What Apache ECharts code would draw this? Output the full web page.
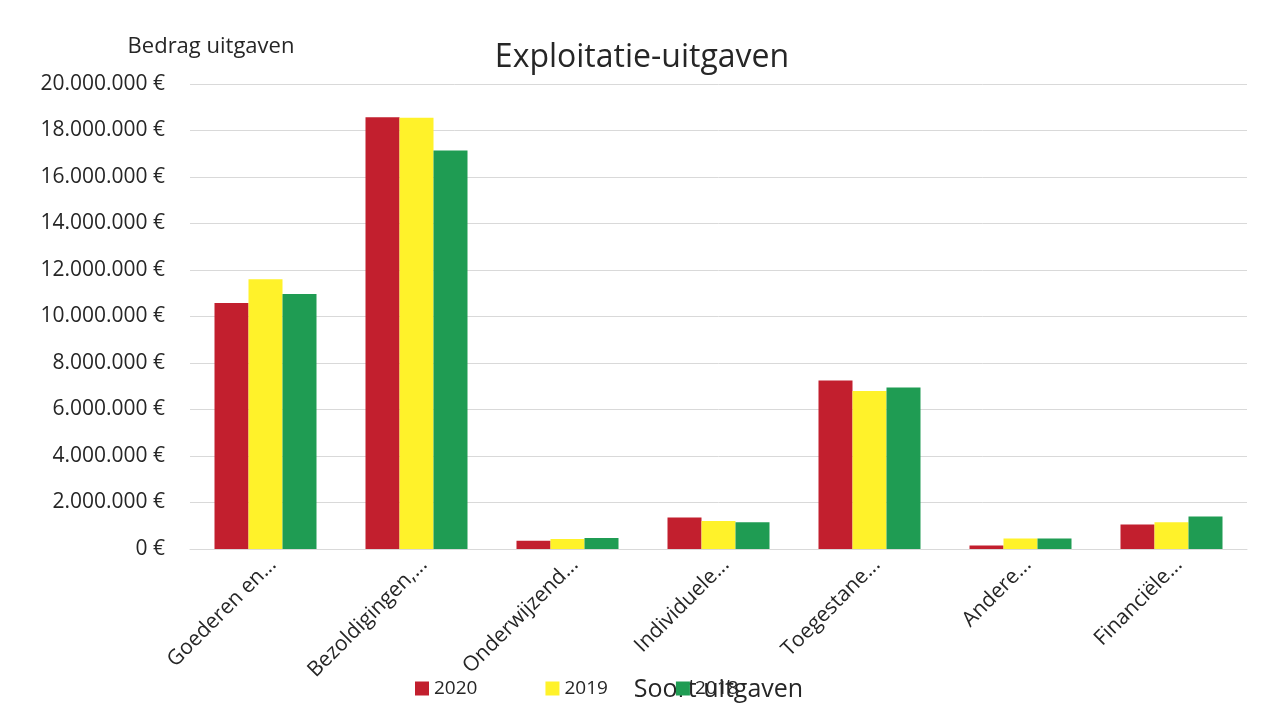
<!DOCTYPE html>
<html><head><meta charset="utf-8">
<script src="https://cdn.jsdelivr.net/npm/echarts@6/dist/echarts.min.js"></script>
<style>html,body{margin:0;padding:0;background:#fff}#c{width:1269px;height:709px}</style>
</head><body><div id="c"></div>
<script>
const categories = ["Goederen en...", "Bezoldigingen,...", "Onderwijzend...", "Individuele...", "Toegestane...", "Andere...", "Financiële..."];
const years = ["2020", "2019", "2018"];
const values2020 = [10580000, 18570000, 350000, 1350000, 7250000, 150000, 1050000];
const values2019 = [11600000, 18550000, 430000, 1200000, 6800000, 450000, 1150000];
const values2018 = [10970000, 17140000, 470000, 1150000, 6950000, 450000, 1400000];
const yTicks = [0, 2000000, 4000000, 6000000, 8000000, 10000000, 12000000, 14000000, 16000000, 18000000, 20000000];
const colors = ["#C21F2E", "#FFF22A", "#1F9C53"];
const FONT = "Open Sans";

function fmt(v){
  return String(v).replace(/\B(?=(\d{3})+(?!\d))/g, ".") + " €";
}

const chart = echarts.init(document.getElementById('c'));
chart.setOption({
  backgroundColor: '#fff',
  animation: false,
  textStyle: {fontFamily: FONT, color: '#262626'},
  title: {
    text: 'Exploitatie-uitgaven',
    left: 637, top: 37, textAlign: 'center',
    textStyle: {fontFamily: FONT, fontSize: 32, fontWeight: 'normal', color: '#262626'}
  },
  legend: {
    data: years,
    left: 410, top: 674,
    itemWidth: 14, itemHeight: 14, itemGap: 68,
    icon: 'rect',
    textStyle: {fontFamily: FONT, fontSize: 19, color: '#262626'}
  },
  grid: {left: 190, right: 22, top: 84, bottom: 160, containLabel: false, outerBoundsMode: 'none'},
  xAxis: {
    type: 'category',
    data: categories,
    name: 'Soort uitgaven',
    nameLocation: 'middle',
    nameGap: 128,
    nameMoveOverlap: false,
    nameTextStyle: {fontFamily: FONT, fontSize: 25, color: '#262626'},
    axisLine: {show: true, lineStyle: {color: '#D9D9D9'}},
    axisTick: {show: false},
    axisLabel: {rotate: 45, fontFamily: FONT, fontSize: 21, color: '#262626', margin: 5, interval: 0, verticalAlign: 'top'}
  },
  yAxis: {
    type: 'value',
    min: yTicks[0], max: yTicks[yTicks.length - 1], interval: 2000000,
    name: 'Bedrag uitgaven',
    nameLocation: 'end',
    nameGap: 26,
    nameTextStyle: {fontFamily: FONT, fontSize: 22, color: '#262626', align: 'center', padding: [0, 0, 0, 42]},
    axisLine: {show: false},
    axisTick: {show: false},
    splitLine: {lineStyle: {color: '#D9D9D9', width: 1}},
    axisLabel: {fontFamily: FONT, fontSize: 21, color: '#262626', margin: 25, formatter: fmt}
  },
  series: [
    {name: years[0], type: 'bar', data: values2020, itemStyle: {color: colors[0]}, barWidth: 34, barGap: '0%'},
    {name: years[1], type: 'bar', data: values2019, itemStyle: {color: colors[1]}, barWidth: 34, barGap: '0%'},
    {name: years[2], type: 'bar', data: values2018, itemStyle: {color: colors[2]}, barWidth: 34, barGap: '0%'}
  ]
});
</script></body></html>
